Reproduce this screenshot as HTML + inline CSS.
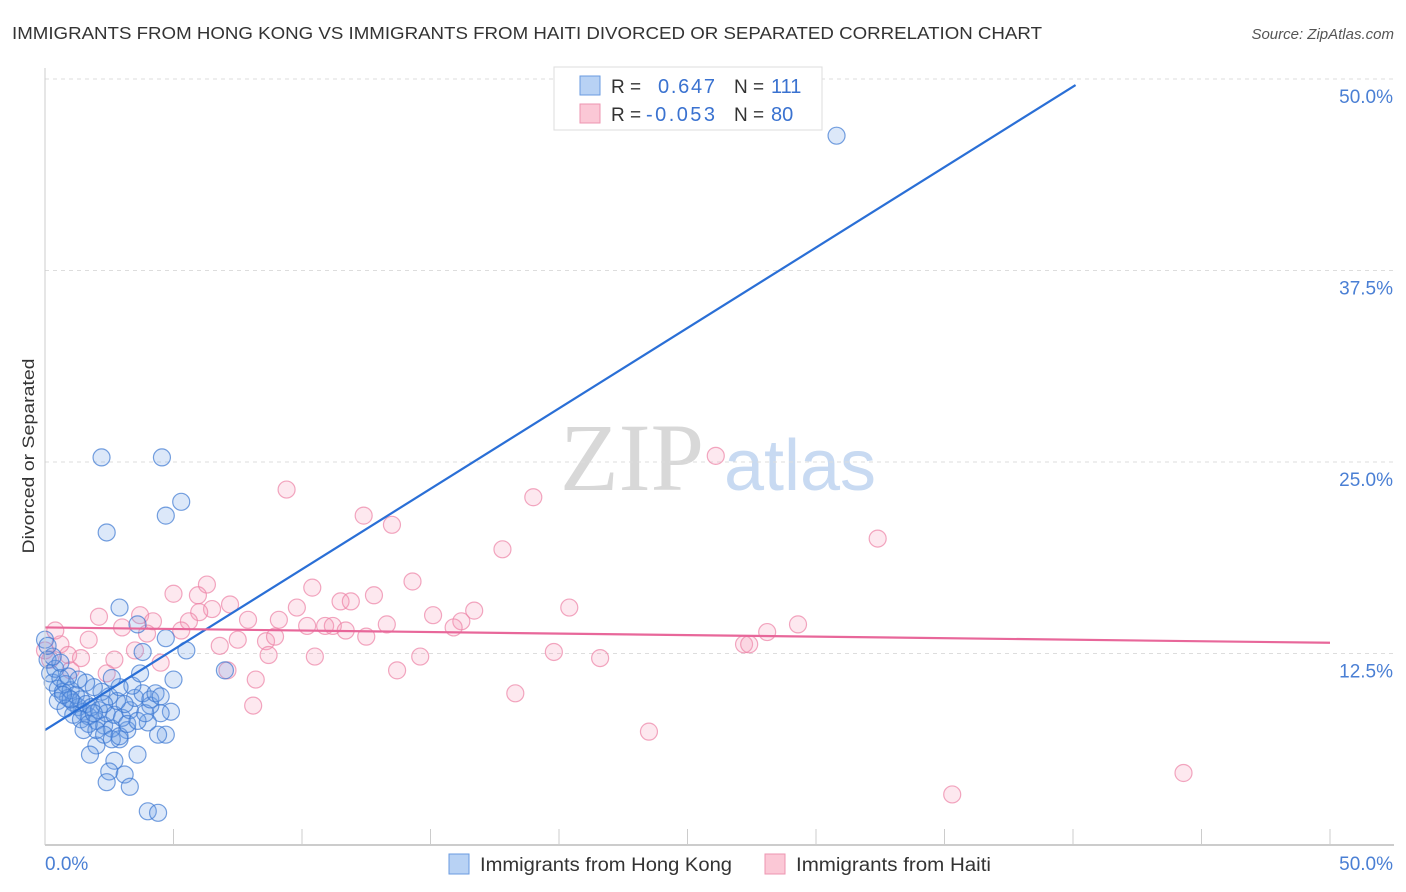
<!DOCTYPE html>
<html><head><meta charset="utf-8"><style>
body{margin:0;background:#fff;font-family:"Liberation Sans",sans-serif}
#wrap{position:relative;width:1406px;height:892px;overflow:hidden}
</style></head><body>
<div id="wrap">
<svg id="svg" width="1406" height="892" xmlns="http://www.w3.org/2000/svg">
<text x="12" y="39" font-size="17.5" fill="#333" textLength="1030" lengthAdjust="spacingAndGlyphs">IMMIGRANTS FROM HONG KONG VS IMMIGRANTS FROM HAITI DIVORCED OR SEPARATED CORRELATION CHART</text>
<text x="1394" y="39" font-size="15" fill="#555" font-style="italic" text-anchor="end">Source: ZipAtlas.com</text>
<text transform="translate(34,456) rotate(-90)" font-size="17" fill="#333" text-anchor="middle" textLength="195" lengthAdjust="spacingAndGlyphs">Divorced or Separated</text>
<g><text x="632" y="490" font-size="96" font-family="Liberation Serif,serif" fill="#d8d8d8" text-anchor="middle">ZIP</text><text x="800" y="490" font-size="72" fill="#c8daf2" text-anchor="middle">atlas</text></g>
<g id="grid"></g><g id="pts"></g><g id="lines"></g><g id="axes"></g>
<g>
<rect x="554" y="67" width="268" height="63" fill="#fff" stroke="#ddd"/>
<rect x="580" y="76" width="20" height="19" fill="#b8d2f4" stroke="#6a9be0"/>
<rect x="580" y="104" width="20" height="19" fill="#fbc8d6" stroke="#ee95b0"/>
<text x="611" y="93" font-size="19" fill="#333">R = </text><text x="658" y="93" font-size="20" fill="#3a72d0" textLength="57">0.647</text>
<text x="734" y="93" font-size="19" fill="#333">N = </text><text x="771" y="93" font-size="20" fill="#3a72d0">111</text>
<text x="611" y="121" font-size="19" fill="#333">R = </text><text x="646" y="121" font-size="20" fill="#3a72d0" textLength="69">-0.053</text>
<text x="734" y="121" font-size="19" fill="#333">N = </text><text x="771" y="121" font-size="20" fill="#3a72d0">80</text>
</g>
<g>
<rect x="449" y="854" width="20" height="20" fill="#b8d2f4" stroke="#6a9be0"/>
<text x="480" y="871" font-size="19" fill="#333" textLength="252" lengthAdjust="spacingAndGlyphs">Immigrants from Hong Kong</text>
<rect x="765" y="854" width="20" height="20" fill="#fbc8d6" stroke="#ee95b0"/>
<text x="796" y="871" font-size="19" fill="#333" textLength="195" lengthAdjust="spacingAndGlyphs">Immigrants from Haiti</text>
</g>
</svg>
</div>
<script>
const yTicks=[12.5,25,37.5,50];
const yTickLabels=["12.5%","25.0%","37.5%","50.0%"];
const xTickLabels=["0.0%","50.0%"];
const blueX=[30.8,2.2,4.55,5.3,4.7,2.4,2.9,3.6,4.7,7.0,5.0,5.5,3.8,0,0.1,2.0,1.75,2.7,2.5,3.1,2.4,3.3,3.6,4.0,4.4,4.7,4.4,4.9,4.5,4.0,3.2,2.9,4.1,
0.3,0.5,0.7,0.9,1.1,1.3,1.5,1.7,2.0,2.3,2.6,0.2,0.4,0.6,0.8,1.0,1.2,1.4,1.6,1.8,2.1,2.4,2.7,3.0,3.3,3.5,3.8,3.1,2.8,2.5,2.2,1.9,1.6,1.3,0.9,0.6,0.3,0.1,0.5,0.8,1.1,1.4,1.7,2.0,2.3,2.6,2.9,3.2,3.6,3.9,4.1,3.4,2.9,2.3,1.5,1.9,1.0,0.7,2.6,4.3,4.5,3.7];
const blueY=[46.3,25.3,25.3,22.4,21.5,20.4,15.5,14.4,13.5,11.4,10.8,12.7,12.6,13.4,12.1,6.5,5.9,5.5,4.8,4.6,4.1,3.8,5.9,2.2,2.1,7.2,7.2,8.7,8.6,8.0,7.5,6.9,9.1,
10.6,10.2,10.0,9.6,9.3,9.0,8.7,8.4,8.1,7.8,7.6,11.2,11.5,10.9,10.5,10.1,9.8,9.5,9.2,9.0,8.8,8.6,8.5,8.3,8.8,9.6,9.9,9.2,9.4,9.7,10.0,10.3,10.6,10.8,11.0,11.9,12.3,13.0,9.4,8.9,8.5,8.2,7.9,7.5,7.2,6.9,7.1,7.9,8.1,8.6,9.5,10.4,10.3,9.2,7.5,8.6,9.5,9.8,10.9,9.9,9.7,11.2];
const pinkX=[26.1,9.4,19.0,12.4,13.5,32.4,17.8,6.3,14.3,10.4,5.0,5.95,11.5,11.9,12.8,9.8,20.4,16.7,15.1,7.2,6.5,6.0,3.7,2.1,4.2,5.6,7.9,9.1,10.2,10.9,11.2,13.3,16.2,15.9,11.7,3.0,3.97,5.3,7.5,8.6,8.95,12.5,29.3,28.1,27.2,27.4,1.7,0.6,0,0.9,1.4,2.7,3.5,4.5,6.8,8.7,10.5,14.6,19.8,21.6,13.7,2.4,1.0,7.1,8.2,18.3,8.1,23.5,44.3,35.3,0.4,0.2];
const pinkY=[25.4,23.2,22.7,21.5,20.9,20.0,19.3,17.0,17.2,16.8,16.4,16.3,15.9,15.9,16.3,15.5,15.5,15.3,15.0,15.7,15.4,15.2,15.0,14.9,14.6,14.6,14.7,14.7,14.3,14.3,14.3,14.4,14.6,14.2,14.0,14.2,13.8,14.0,13.4,13.3,13.6,13.6,14.4,13.9,13.1,13.1,13.4,13.1,12.7,12.4,12.2,12.1,12.7,11.9,13.0,12.4,12.3,12.3,12.6,12.2,11.4,11.2,11.4,11.4,10.8,9.9,9.1,7.4,4.7,3.3,14.0,12.1];
const blueTrend=[7.5,1.05];
const pinkTrend=[14.2,-0.02];
const NS="http://www.w3.org/2000/svg";
const X0=45,X1=1330,Y0=845,Y50=79;
function sx(v){return X0+(X1-X0)*v/50;}
function sy(v){return Y0-(Y0-Y50)*v/50;}
function mk(t,a,p){const e=document.createElementNS(NS,t);for(const k in a)e.setAttribute(k,a[k]);p.appendChild(e);return e;}
const grid=document.getElementById('grid'),axes=document.getElementById('axes');
yTicks.forEach((t,i)=>{
 const l=mk('line',{x1:X0,x2:1394,y1:sy(t),y2:sy(t),stroke:'#ddd','stroke-dasharray':'4,4'},grid);
 
 
 const tx=mk('text',{x:1393,y:sy(t)+24,'font-size':19,fill:'#4a7fd4','text-anchor':'end'},axes);
 tx.textContent=yTickLabels[i];
 
 
});
const ax=mk('line',{x1:X0,x2:1394,y1:Y0,y2:Y0,stroke:'#bbb','stroke-width':1.5},axes);


const ay=mk('line',{x1:X0,x2:X0,y1:68,y2:Y0,stroke:'#ccc'},axes);


for(let i=0;i<=10;i++){const t=mk('line',{x1:sx(i*5),x2:sx(i*5),y1:Y0-16,y2:Y0,stroke:'#ccc'},axes);
 
 }
[[0,'start'],[50,'end']].forEach((p,i)=>{const t=mk('text',{x:i?1393:45,y:870,'font-size':19,fill:'#4a7fd4','text-anchor':p[1]},axes);t.textContent=xTickLabels[i];
 
 });
const pts=document.getElementById('pts');
pinkX.forEach((x,i)=>{const c=mk('circle',{cx:sx(x),cy:sy(pinkY[i]),r:8.5,fill:'rgba(244,150,180,0.22)',stroke:'rgba(236,130,165,0.7)','stroke-width':1.2},pts);
 
 });
blueX.forEach((x,i)=>{const c=mk('circle',{cx:sx(x),cy:sy(blueY[i]),r:8.5,fill:'rgba(110,160,230,0.24)',stroke:'rgba(60,120,210,0.7)','stroke-width':1.2},pts);
 
 });
const lines=document.getElementById('lines');
const bEnd=40.1;
const bl=mk('line',{x1:sx(0),y1:sy(blueTrend[0]),x2:sx(bEnd),y2:sy(blueTrend[0]+blueTrend[1]*bEnd),stroke:'#2a6fd6','stroke-width':2.2},lines);


const pl=mk('line',{x1:sx(0),y1:sy(pinkTrend[0]),x2:sx(50),y2:sy(pinkTrend[0]+pinkTrend[1]*50),stroke:'#e8679a','stroke-width':2.2},lines);


</script>
</body></html>
